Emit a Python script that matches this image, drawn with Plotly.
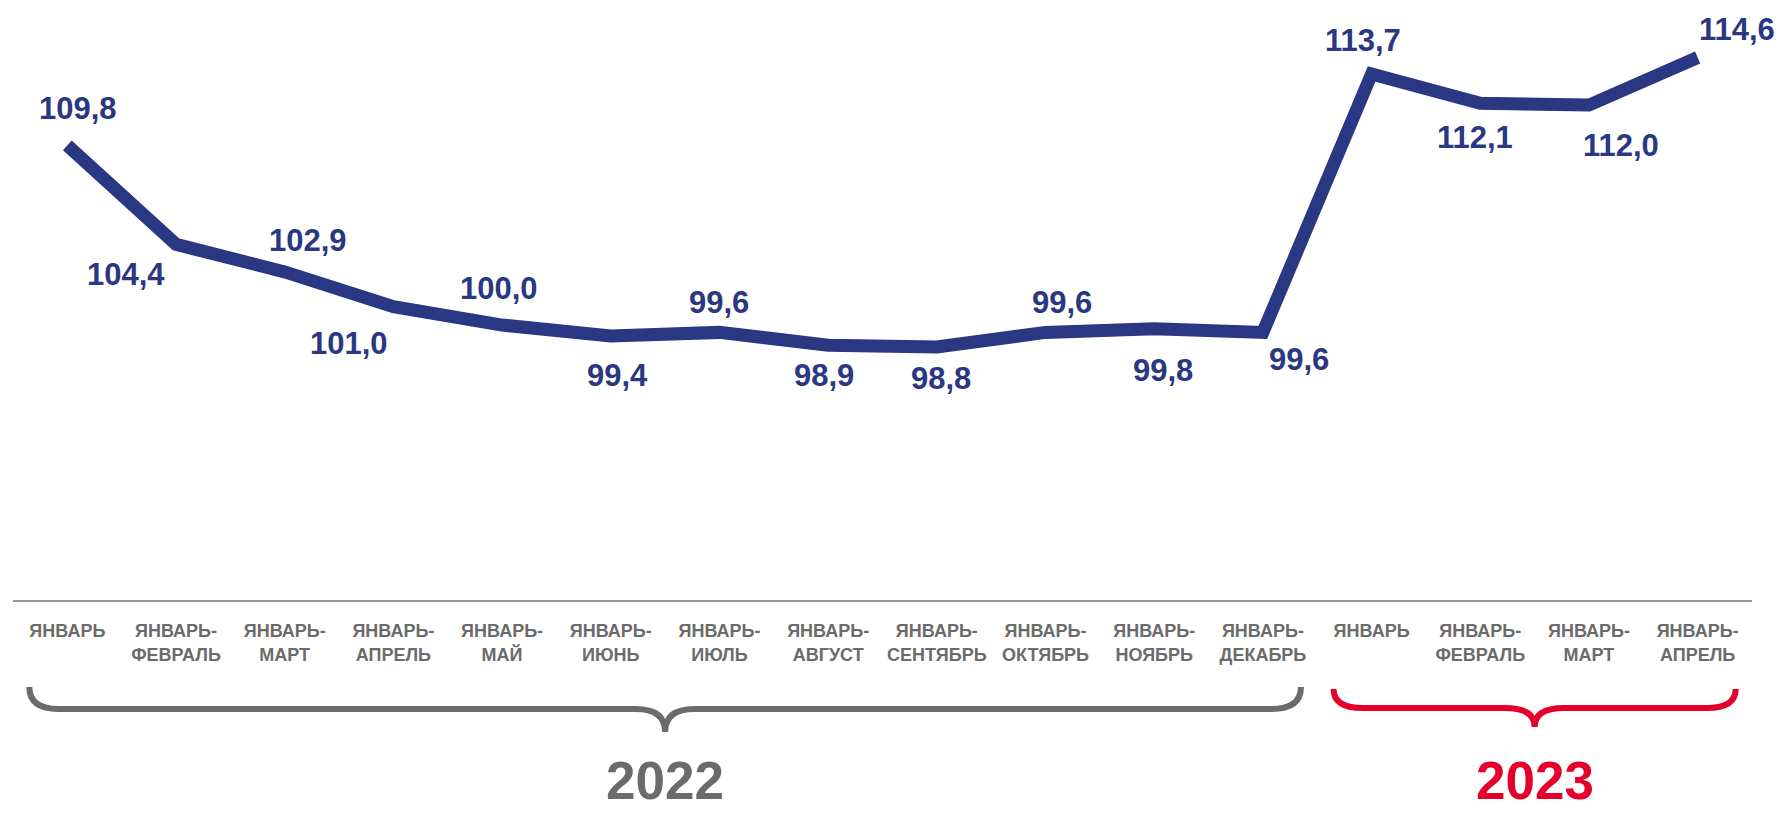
import plotly.graph_objects as go

# ---- data ----
PERIOD_LINE1 = ["ЯНВАРЬ", "ЯНВАРЬ-", "ЯНВАРЬ-", "ЯНВАРЬ-", "ЯНВАРЬ-", "ЯНВАРЬ-",
                "ЯНВАРЬ-", "ЯНВАРЬ-", "ЯНВАРЬ-", "ЯНВАРЬ-", "ЯНВАРЬ-", "ЯНВАРЬ-",
                "ЯНВАРЬ", "ЯНВАРЬ-", "ЯНВАРЬ-", "ЯНВАРЬ-"]
PERIOD_LINE2 = ["", "ФЕВРАЛЬ", "МАРТ", "АПРЕЛЬ", "МАЙ", "ИЮНЬ",
                "ИЮЛЬ", "АВГУСТ", "СЕНТЯБРЬ", "ОКТЯБРЬ", "НОЯБРЬ", "ДЕКАБРЬ",
                "", "ФЕВРАЛЬ", "МАРТ", "АПРЕЛЬ"]
VALUES = [109.8, 104.4, 102.9, 101.0, 100.0, 99.4, 99.6, 98.9,
          98.8, 99.6, 99.8, 99.6, 113.7, 112.1, 112.0, 114.6]
YEARS = ["2022", "2023"]
YEAR_FIRST_IDX = [0, 12]
YEAR_LAST_IDX = [11, 15]

# ---- styling / placement ----
NAVY = "#2a3782"
GRAY = "#6b6b6b"
RED = "#e4002b"
YEAR_COLORS = [GRAY, RED]
FONT = "Liberation Sans, Arial, sans-serif"
# label offsets from the point in pixels (dx right, dy down)
LABEL_DX = [11, -50, 23, -44, -3, 7, 0, -4, 4, 16, 9, 36, -9, -5, 32, 39]
LABEL_DY = [-37, 30, -31, 37, -37, 39, -30, 30, 31, -30, 42, 27, -33, 34, 40, -28]

W, H = 1779, 813
M_L, M_R, M_T, M_B = 13, 27, 10, 213
PLOT_H = H - M_T - M_B
PX_PER_UNIT = 18.33
Y_MIN = 85.0
Y_MAX = Y_MIN + PLOT_H / PX_PER_UNIT

x = list(range(len(VALUES)))
ticktext = [a if not b else f"{a}<br>{b}" for a, b in zip(PERIOD_LINE1, PERIOD_LINE2)]

fig = go.Figure()
fig.add_trace(go.Scatter(
    x=x, y=VALUES, mode="lines",
    line=dict(color=NAVY, width=13),
    hoverinfo="skip", showlegend=False,
))

for xi, v, dx, dy in zip(x, VALUES, LABEL_DX, LABEL_DY):
    fig.add_annotation(
        x=xi, y=v, xref="x", yref="y",
        text=f"{v:.1f}".replace(".", ","),
        showarrow=False, xanchor="center", yanchor="middle",
        xshift=dx, yshift=-dy,
        font=dict(family=FONT, size=31, color=NAVY, weight="bold"),
    )

# braces and year captions
BRACE_PAD = 0.35
for i, (yr, a, b, col) in enumerate(zip(YEARS, YEAR_FIRST_IDX, YEAR_LAST_IDX, YEAR_COLORS)):
    xl = a - BRACE_PAD
    xr = b + BRACE_PAD
    xm = (a + b) / 2
    r = 0.27
    if i == 0:
        top, mid, tip = -87, -109, -132
    else:
        top, mid, tip = -89, -108, -127
    path = (f"M {xl},{top} Q {xl},{mid} {xl + r},{mid} "
            f"L {xm - r},{mid} Q {xm},{mid} {xm},{tip} "
            f"Q {xm},{mid} {xm + r},{mid} "
            f"L {xr - r},{mid} Q {xr},{mid} {xr},{top}")
    fig.add_shape(type="path", path=path, xref="x", yref="paper",
                  ysizemode="pixel", yanchor=0,
                  line=dict(color=col, width=6))
    fig.add_annotation(
        x=xm, y=0, xref="x", yref="paper", text=yr, showarrow=False,
        xanchor="center", yanchor="bottom", yshift=-212,
        font=dict(family=FONT, size=53, color=col, weight="bold"),
    )

fig.update_layout(
    width=W, height=H,
    margin=dict(l=M_L, r=M_R, t=M_T, b=M_B),
    paper_bgcolor="white", plot_bgcolor="white",
    xaxis=dict(
        range=[-0.5, len(VALUES) - 0.5],
        tickvals=x, ticktext=ticktext,
        tickfont=dict(family=FONT, size=18, color=GRAY, weight="bold"),
        showgrid=False, zeroline=False,
        showline=True, linecolor="#9a9a9a", linewidth=1.5,
        ticks="", ticklabelstandoff=14,
    ),
    yaxis=dict(range=[Y_MIN, Y_MAX], visible=False),
)

fig.write_html("out.html",
               config={"displayModeBar": False},
               post_script="document.body.style.margin='0';document.body.style.overflow='hidden';")
